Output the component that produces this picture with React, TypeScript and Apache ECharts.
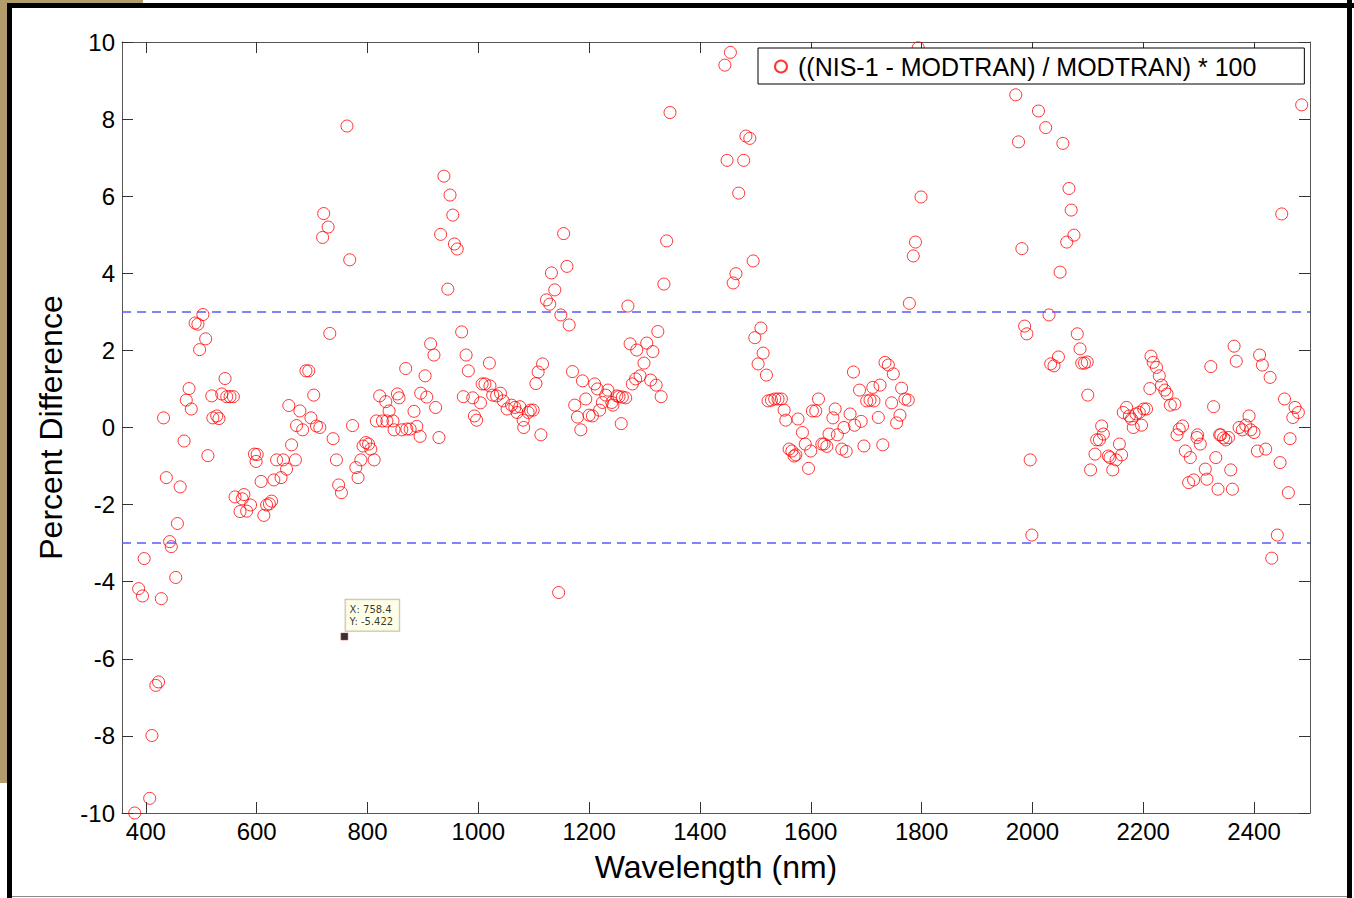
import React, { useEffect, useRef } from "react";
import * as echarts from "echarts";

// Wavelength (nm) of each measurement
const wavelengths: number[] = [
  380, 387, 394, 397, 407, 411, 418, 423, 428, 432, 437, 443, 446, 454, 457, 462, 469, 473, 478, 482,
  489, 494, 497, 503, 508, 512, 519, 521, 528, 532, 537, 543, 546, 552, 558, 561, 570, 574, 577, 582,
  589, 596, 599, 601, 608, 613, 618, 623, 627, 631, 636, 644, 648, 654, 658, 663, 670, 672, 678, 683,
  689, 694, 698, 703, 708, 714, 719, 721, 729, 732, 738, 744, 748, 753, 763, 768, 773, 779, 783, 788,
  792, 797, 802, 806, 812, 816, 822, 827, 833, 835, 839, 846, 848, 854, 857, 862, 869, 871, 877, 884,
  889, 895, 896, 904, 907, 914, 920, 923, 929, 932, 938, 945, 949, 954, 957, 962, 970, 973, 978, 982,
  990, 993, 997, 1004, 1007, 1012, 1020, 1021, 1026, 1033, 1040, 1045, 1052, 1060, 1066, 1070, 1075, 1081, 1082, 1090,
  1094, 1099, 1104, 1108, 1113, 1116, 1123, 1129, 1132, 1138, 1145, 1149, 1154, 1160, 1164, 1170, 1174, 1179, 1185, 1188,
  1194, 1200, 1206, 1210, 1215, 1219, 1224, 1230, 1234, 1241, 1243, 1250, 1254, 1258, 1260, 1266, 1270, 1274, 1278, 1284,
  1286, 1292, 1299, 1304, 1311, 1315, 1321, 1324, 1330, 1335, 1340, 1346,
  1445, 1449, 1455, 1460, 1465, 1470, 1479, 1483, 1490, 1496, 1499, 1505, 1510, 1514, 1520, 1523, 1529, 1535, 1541, 1547,
  1552, 1555, 1561, 1566, 1570, 1573, 1577, 1585, 1590, 1596, 1600, 1603, 1609, 1614, 1620, 1624, 1629, 1633, 1640, 1644,
  1648, 1656, 1660, 1664, 1671, 1677, 1679, 1688, 1691, 1696, 1701, 1707, 1712, 1714, 1722, 1725, 1730, 1734, 1740, 1746,
  1749, 1755, 1761, 1764, 1770, 1776, 1778, 1785, 1789, 1794, 1799,
  1970, 1975, 1981, 1986, 1990, 1996, 1999, 2011, 2024, 2030, 2033, 2039, 2047, 2050, 2055, 2062, 2066, 2070, 2075, 2081,
  2086, 2089, 2094, 2099, 2100, 2105, 2113, 2116, 2121, 2125, 2128, 2137, 2140, 2145, 2151, 2157, 2161, 2164, 2170, 2175,
  2179, 2182, 2187, 2193, 2197, 2201, 2206, 2212, 2214, 2218, 2224, 2229, 2233, 2239, 2243, 2249, 2257, 2261, 2265, 2271,
  2276, 2282, 2285, 2291, 2297, 2298, 2303, 2312, 2315, 2322, 2327, 2331, 2335, 2338, 2340, 2345, 2349, 2354, 2358, 2361,
  2364, 2368, 2373, 2379, 2385, 2391, 2394, 2400, 2406, 2410, 2415, 2421, 2429, 2432, 2442, 2447, 2450, 2455, 2462, 2465,
  2470, 2474, 2480, 2486,
];

// ((NIS-1 - MODTRAN) / MODTRAN) * 100 for each wavelength
const percentDiff: number[] = [
  -10.0, -4.18, -4.37, -3.4, -9.62, -7.99, -6.69, -6.6, -4.44, 0.25, -1.3, -2.96, -3.09, -3.89, -2.49, -1.54, -0.35, 0.71, 1.01, 0.48,
  2.71, 2.68, 2.02, 2.93, 2.3, -0.73, 0.82, 0.25, 0.3, 0.23, 0.87, 1.27, 0.8, 0.8, 0.8, -1.8, -2.18, -1.85, -1.74, -2.17,
  -2.01, -0.69, -0.88, -0.7, -1.4, -2.28, -2.01, -1.98, -1.91, -1.36, -0.84, -1.3, -0.84, -1.08, 0.57, -0.45, -0.84, 0.05, 0.43, -0.06,
  1.47, 1.47, 0.25, 0.84, 0.04, 0.0, 4.93, 5.55, 5.2, 2.44, -0.29, -0.84, -1.49, -1.69, 7.82, 4.35, 0.05, -1.04, -1.3, -0.84,
  -0.48, -0.39, -0.43, -0.56, -0.84, 0.17, 0.82, 0.17, 0.67, 0.17, 0.43, 0.17, -0.06, 0.87, 0.77, -0.06, 1.53, -0.04, -0.04, 0.42,
  0.03, -0.23, 0.89, 1.34, 0.79, 2.17, 1.88, 0.52, -0.26, 5.01, 6.52, 3.59, 6.03, 5.51, 4.76, 4.63, 2.48, 0.8, 1.88, 1.47,
  0.77, 0.3, 0.19, 0.64, 1.13, 1.13, 1.67, 1.08, 0.84, 0.82, 0.89, 0.69, 0.48, 0.58, 0.52, 0.39, 0.54, 0.19, 0.0, 0.39,
  0.45, 0.45, 1.14, 1.44, -0.19, 1.65, 3.31, 3.2, 4.01, 3.57, -4.28, 2.92, 5.03, 4.18, 2.66, 1.45, 0.58, 0.27, -0.06, 1.21,
  0.74, 0.32, 0.3, 1.13, 1.0, 0.45, 0.65, 0.84, 0.97, 0.65, 0.58, 0.82, 0.8, 0.1, 0.79, 0.77, 3.15, 2.17, 1.13, 1.26,
  2.01, 1.34, 1.67, 2.19, 1.23, 1.97, 1.1, 2.49, 0.8, 3.72, 4.84, 8.17,
  9.4, 6.93, 9.73, 3.75, 3.99, 6.08, 6.93, 7.56, 7.5, 4.32, 2.33, 1.65, 2.58, 1.93, 1.36, 0.69, 0.71, 0.74, 0.74, 0.74,
  0.45, 0.19, -0.56, -0.61, -0.74, -0.71, 0.22, -0.13, -0.43, -1.06, -0.61, 0.43, 0.43, 0.74, -0.43, -0.43, -0.49, -0.17, 0.25, 0.48,
  -0.19, -0.56, 0.0, -0.62, 0.35, 1.44, 0.06, 0.97, 0.16, -0.48, 0.69, 0.71, 1.04, 0.69, 0.26, 1.1, -0.45, 1.69, 1.62, 0.64,
  1.39, 0.12, 0.32, 1.02, 0.74, 0.71, 3.22, 4.45, 4.81, 9.85, 5.98,
  8.63, 7.41, 4.64, 2.63, 2.43, -0.84, -2.79, 8.21, 7.78, 2.92, 1.65, 1.6, 1.83, 4.03, 7.37, 4.81, 6.2, 5.64, 4.99, 2.43,
  2.04, 1.67, 1.67, 1.7, 0.84, -1.1, -0.69, -0.32, -0.32, 0.04, -0.17, -0.74, -0.78, -1.1, -0.84, -0.43, -0.71, 0.39, 0.52, 0.3,
  0.22, 0.0, 0.35, 0.39, 0.06, 0.48, 0.48, 1.01, 1.85, 1.69, 1.56, 1.34, 1.1, 0.97, 0.87, 0.58, 0.61, -0.19, -0.04, 0.04,
  -0.61, -1.43, -0.78, -1.36, -0.26, -0.19, -0.43, -1.08, -1.34, 1.58, 0.54, -0.78, -1.6, -0.19, -0.19, -0.27, -0.32, -0.26, -1.1, -1.6,
  2.11, 1.72, 0.0, -0.06, 0.06, 0.3, -0.06, -0.13, -0.61, 1.88, 1.62, -0.56, 1.3, -3.39, -2.79, -0.91, 5.54, 0.74, -1.69, -0.29,
  0.26, 0.52, 0.39, 8.37,
];

const xTicks: number[] = [400, 600, 800, 1000, 1200, 1400, 1600, 1800, 2000, 2200, 2400];
const thresholds: number[] = [3, -3];
const dataTip: number[] = [758.4, -5.422];
const seriesName = "((NIS-1 - MODTRAN) / MODTRAN) * 100";

const FONT = "'Liberation Sans', Arial, Helvetica, sans-serif";

export default function App() {
  const ref = useRef<HTMLDivElement>(null);

  useEffect(() => {
    if (!ref.current) return;
    const chart = echarts.init(ref.current, undefined, { renderer: "svg" });

    const points = wavelengths.map((w, i) => [w, percentDiff[i]]);
    const axisLine = { show: true, onZero: false, lineStyle: { color: "#555555", width: 1 } };
    const tickStyle = { lineStyle: { color: "#333333", width: 1 } };
    const dashStyle = { color: "#5a5aff", type: [9, 6], width: 1.5 };

    const option: any = {
      animation: false,
      backgroundColor: "#ffffff",
      textStyle: { fontFamily: FONT },
      grid: { left: 122, right: 44, top: 42, bottom: 85, containLabel: false },
      legend: {
        data: [{ name: seriesName, icon: "circle" }],
        left: 758,
        top: 48,
        orient: "horizontal",
        backgroundColor: "#ffffff",
        borderColor: "#000000",
        borderWidth: 1,
        borderRadius: 0,
        padding: [6, 48, 5, 16],
        itemWidth: 12,
        itemHeight: 12,
        itemGap: 8,
        selectedMode: false,
        textStyle: { fontSize: 25, color: "#000000", fontFamily: FONT, padding: [0, 0, 0, 6] },
      },
      xAxis: [
        {
          type: "value",
          position: "bottom",
          min: 357,
          max: 2501,
          axisLine,
          axisTick: { show: true, inside: true, length: 11, customValues: xTicks, ...tickStyle },
          axisLabel: {
            show: true,
            customValues: xTicks,
            formatter: (v: number) => String(v),
            fontSize: 24,
            color: "#000000",
            margin: 6,
            fontFamily: FONT,
          },
          splitLine: { show: false },
          name: "Wavelength (nm)",
          nameLocation: "middle",
          nameGap: 38,
          nameTextStyle: { fontSize: 32, color: "#000000", fontFamily: FONT },
        },
        {
          type: "value",
          position: "top",
          min: 357,
          max: 2501,
          axisLine,
          axisTick: { show: true, inside: true, length: 11, customValues: xTicks, ...tickStyle },
          axisLabel: { show: false },
          splitLine: { show: false },
        },
      ],
      yAxis: [
        {
          type: "value",
          position: "left",
          min: -10,
          max: 10,
          interval: 2,
          axisLine,
          axisTick: { show: true, inside: true, length: 11, ...tickStyle },
          axisLabel: { fontSize: 24, color: "#000000", margin: 7, fontFamily: FONT },
          splitLine: { show: false },
          name: "Percent Difference",
          nameLocation: "middle",
          nameGap: 55,
          nameTextStyle: { fontSize: 32, color: "#000000", fontFamily: FONT },
        },
        {
          type: "value",
          position: "right",
          min: -10,
          max: 10,
          interval: 2,
          axisLine,
          axisTick: { show: true, inside: true, length: 11, ...tickStyle },
          axisLabel: { show: false },
          splitLine: { show: false },
        },
      ],
      series: [
        {
          name: seriesName,
          type: "scatter",
          xAxisIndex: 0,
          yAxisIndex: 0,
          data: points,
          symbol: "circle",
          symbolSize: 12,
          clip: false,
          itemStyle: { color: "rgba(255,0,0,0)", borderColor: "#ff0000", borderWidth: 1 },
          z: 3,
        },
        {
          name: "thresholds",
          type: "line",
          xAxisIndex: 0,
          yAxisIndex: 0,
          data: [],
          itemStyle: { color: "#5a5aff" },
          lineStyle: { color: "#5a5aff" },
          markLine: {
            silent: true,
            symbol: "none",
            label: { show: false },
            lineStyle: dashStyle,
            data: thresholds.map((t) => ({ yAxis: t, lineStyle: dashStyle })),
          },
          z: 2,
        },
        {
          name: "datatip",
          type: "scatter",
          xAxisIndex: 0,
          yAxisIndex: 0,
          data: [dataTip],
          symbol: "rect",
          symbolSize: 7,
          itemStyle: { color: "#000000", borderColor: "#ff3030", borderWidth: 0.6 },
          label: {
            show: true,
            position: [5, -33],
            formatter: () => `X: ${dataTip[0]}\nY: ${dataTip[1]}`,
            backgroundColor: "#ffffe1",
            borderColor: "#b0b0a0",
            borderWidth: 1,
            padding: [4, 6, 3, 4],
            fontSize: 10,
            lineHeight: 12,
            color: "#000000",
            fontFamily: "'DejaVu Sans', sans-serif",
          },
          z: 5,
        },
      ],
      graphic: [
        { type: "rect", left: 0, top: 0, shape: { width: 8, height: 783 }, style: { fill: "#b39c6c" }, z: -1 },
        { type: "rect", left: 0, top: 0, shape: { width: 143, height: 4 }, style: { fill: "#b39c6c" }, z: -1 },
        { type: "rect", left: 7, top: 3, shape: { width: 1347, height: 5 }, style: { fill: "#000000" }, z: 10 },
        { type: "rect", left: 7, top: 3, shape: { width: 5, height: 895 }, style: { fill: "#000000" }, z: 10 },
        { type: "rect", left: 1347, top: 0, shape: { width: 5, height: 898 }, style: { fill: "#000000" }, z: 10 },
        { type: "rect", left: 12, top: 896, shape: { width: 1335, height: 1 }, style: { fill: "#8a8a8a" }, z: 10 },
      ],
    };

    chart.setOption(option);
    return () => chart.dispose();
  }, []);

  return (
    <div
      ref={ref}
      style={{ position: "fixed", left: 0, top: 0, width: 1354, height: 898, background: "#ffffff" }}
    />
  );
}
